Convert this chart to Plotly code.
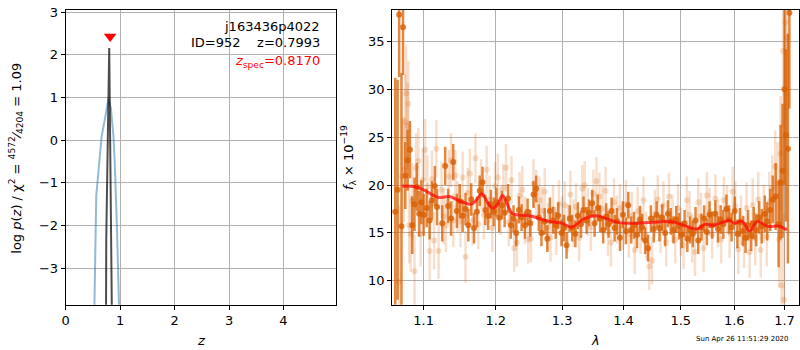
import plotly.graph_objects as go
import numpy as np

# ---------------- left panel data ----------------
z_chi2 = [0.50, 0.525, 0.561, 0.60, 0.66, 0.72, 0.76, 0.786, 0.83, 0.86, 0.877, 0.90, 0.92, 0.94, 0.98, 1.00]
logp_chi2 = [-6.0, -3.9, -1.3, -0.75, 0.09, 0.5, 0.8, 0.97, 0.75, 0.35, 0.1, -0.5, -1.2, -2.0, -3.9, -6.0]
z_pz = [0.730, 0.737, 0.745, 0.7993, 0.847, 0.855]
logp_pz = [-8.0, -3.9, -2.3, 2.16, -3.9, -8.0]
z_spec = 0.8170
z_spec_y = 2.43

# ---------------- right panel data ----------------
lam_dark = [1.063, 1.066, 1.068, 1.071, 1.073, 1.076, 1.079, 1.082, 1.085, 1.088, 1.091, 1.094, 1.097, 1.100,
            1.104, 1.108, 1.111, 1.115, 1.118, 1.125, 1.129, 1.133, 1.137, 1.140, 1.145, 1.149, 1.153, 1.157,
            1.161, 1.165, 1.169, 1.173, 1.177, 1.181, 1.185, 1.189, 1.193, 1.197, 1.201, 1.205, 1.209, 1.213,
            1.218, 1.222, 1.226, 1.230, 1.234, 1.238, 1.243, 1.247, 1.251, 1.256, 1.260, 1.264, 1.268, 1.273,
            1.277, 1.281, 1.286, 1.290, 1.294, 1.299, 1.303, 1.307, 1.312, 1.316, 1.321, 1.325, 1.330, 1.334,
            1.339, 1.343, 1.348, 1.352, 1.357, 1.361, 1.366, 1.371, 1.375, 1.380, 1.385, 1.389, 1.394, 1.399,
            1.404, 1.408, 1.413, 1.418, 1.423, 1.428, 1.432, 1.437, 1.442, 1.447, 1.452, 1.457, 1.462, 1.467,
            1.472, 1.477, 1.482, 1.487, 1.492, 1.497, 1.502, 1.507, 1.512, 1.517, 1.522, 1.527, 1.532, 1.538,
            1.543, 1.548, 1.553, 1.558, 1.564, 1.569, 1.574, 1.579, 1.585, 1.590, 1.595, 1.601, 1.606, 1.611,
            1.617, 1.622, 1.627, 1.633, 1.638, 1.643, 1.649, 1.654, 1.660, 1.665, 1.671, 1.676, 1.682, 1.688,
            1.692, 1.696, 1.700, 1.703, 1.707, 1.710]
flux_dark = [17.2, 19.5, 37.8, 15.7, 36.5, 21.0, 22.6, 23.7, 15.8, 18.0, 19.8, 17.0, 18.2, 16.9,
             17.6, 16.3, 18.4, 19.9, 17.7, 16.0, 22.0, 17.8, 16.5, 22.4, 17.3, 18.3, 16.8, 17.5,
             15.8, 18.5, 15.5, 17.2, 19.4, 20.3, 17.4, 16.8, 18.0, 17.2, 18.2, 16.6, 17.9, 17.1,
             18.6, 15.8, 16.5, 15.0, 17.4, 16.6, 15.8, 17.2, 16.0, 19.0, 19.6, 16.6, 15.0, 16.2,
             14.4, 17.3, 16.3, 15.8, 16.8, 15.0, 15.5, 13.7, 16.5, 15.5, 14.9, 16.8, 15.9, 17.4,
             16.3, 17.1, 18.1, 16.0, 17.6, 16.5, 15.3, 16.7, 15.9, 17.3, 15.5, 16.2, 14.5, 16.9,
             15.2, 17.9, 15.3, 15.8, 14.8, 16.4, 15.6, 14.2, 13.4, 16.5, 15.4, 16.9, 15.5, 16.6,
             15.0, 17.0, 16.2, 15.3, 16.4, 15.7, 14.8, 16.0, 14.4, 15.3, 14.9, 16.3, 14.2, 15.6,
             16.5, 15.1, 16.9, 15.8, 17.0, 15.4, 16.4, 15.9, 17.5, 16.4, 15.6, 17.3, 14.9, 16.1,
             15.2, 14.5, 15.8, 14.7, 16.0, 15.3, 16.6, 15.7, 17.0, 16.2, 17.4, 18.5, 18.8, 15.9,
             20.3, 21.5, 30.0, 25.2, 23.8, 38.0]
err_dark = [14.0, 11.5, 6.5, 16.0, 5.0, 3.5, 3.2, 3.0, 3.0, 2.8, 2.5, 2.4, 2.3, 2.2,
            2.0, 2.0, 2.0, 2.1, 1.9, 1.9, 2.0, 1.8, 1.8, 1.9, 1.8, 1.8, 1.7, 1.7,
            1.7, 1.7, 1.6, 1.6, 1.6, 1.6, 1.6, 1.5, 1.5, 1.5, 1.5, 1.5, 1.5, 1.5,
            1.5, 1.4, 1.4, 1.4, 1.4, 1.4, 1.4, 1.4, 1.4, 1.4, 1.4, 1.4, 1.4, 1.4,
            1.4, 1.4, 1.4, 1.4, 1.4, 1.4, 1.4, 1.4, 1.4, 1.4, 1.4, 1.4, 1.4, 1.4,
            1.4, 1.4, 1.4, 1.4, 1.4, 1.4, 1.4, 1.4, 1.4, 1.4, 1.4, 1.4, 1.4, 1.4,
            1.4, 1.4, 1.4, 1.4, 1.4, 1.4, 1.4, 1.4, 1.4, 1.4, 1.4, 1.4, 1.4, 1.4,
            1.4, 1.4, 1.4, 1.4, 1.4, 1.4, 1.4, 1.4, 1.4, 1.4, 1.4, 1.4, 1.4, 1.4,
            1.4, 1.4, 1.4, 1.4, 1.4, 1.4, 1.5, 1.5, 1.5, 1.5, 1.5, 1.5, 1.5, 1.5,
            1.6, 1.6, 1.6, 1.6, 1.7, 1.7, 1.7, 1.8, 1.9, 2.0, 2.2, 2.5, 3.5, 4.5,
            6.0, 7.0, 10.0, 9.0, 12.0, 10.0]

lam_light = [1.068, 1.072, 1.074, 1.076, 1.077, 1.079, 1.080, 1.081, 1.083, 1.085, 1.088, 1.090, 1.093,
             1.096, 1.099, 1.102, 1.105, 1.108, 1.111, 1.114, 1.117, 1.120, 1.124, 1.127, 1.130, 1.134,
             1.137, 1.140, 1.143, 1.146, 1.150, 1.153, 1.157, 1.160, 1.163, 1.167, 1.171, 1.175, 1.179,
             1.183, 1.187, 1.191, 1.195, 1.199, 1.203, 1.207, 1.211, 1.215, 1.219, 1.223, 1.227, 1.231,
             1.235, 1.239, 1.243, 1.248, 1.252, 1.256, 1.260, 1.265, 1.269, 1.273, 1.278, 1.282, 1.286,
             1.291, 1.295, 1.300, 1.304, 1.309, 1.313, 1.318, 1.322, 1.327, 1.332, 1.336, 1.341, 1.346,
             1.350, 1.355, 1.360, 1.365, 1.370, 1.374, 1.379, 1.384, 1.389, 1.394, 1.399, 1.404, 1.409,
             1.414, 1.419, 1.424, 1.429, 1.434, 1.439, 1.444, 1.449, 1.454, 1.459, 1.464, 1.469, 1.474,
             1.479, 1.485, 1.490, 1.495, 1.500, 1.505, 1.511, 1.516, 1.521, 1.526, 1.532, 1.537, 1.542,
             1.548, 1.553, 1.558, 1.564, 1.569, 1.575, 1.580, 1.586, 1.591, 1.597, 1.602, 1.608, 1.613,
             1.619, 1.624, 1.630, 1.636, 1.641, 1.647, 1.652, 1.658, 1.664, 1.669, 1.675, 1.681, 1.686,
             1.689, 1.692, 1.694, 1.697, 1.699, 1.702, 1.705]
flux_light = [9.9, 20.9, 21.6, 26.6, 29.6, 26.2, 28.5, 15.8, 14.9, 18.3, 11.0, 21.8, 22.5,
              14.9, 20.5, 23.7, 19.9, 13.1, 20.6, 14.2, 23.8, 13.1, 19.5, 16.7, 15.8, 20.9,
              22.6, 16.3, 21.0, 17.7, 16.2, 20.8, 12.5, 19.2, 21.2, 16.3, 22.8, 15.9, 20.1,
              16.9, 21.6, 18.5, 15.5, 19.9, 20.8, 17.3, 19.7, 21.8, 16.1, 20.5, 13.4, 14.0,
              18.9, 19.5, 16.3, 14.3, 14.4, 20.2, 19.1, 18.4, 17.3, 19.3, 15.6, 14.5, 17.5,
              15.2, 18.0, 16.3, 17.9, 15.5, 19.0, 16.0, 17.7, 14.5, 19.6, 20.0, 17.2, 15.6,
              19.1, 20.4, 18.8, 17.5, 19.4, 15.1, 14.0, 18.2, 16.4, 17.6, 15.7, 18.0, 14.9,
              16.8, 13.2, 17.3, 15.3, 18.4, 14.7, 11.5, 12.1, 17.0, 18.5, 15.4, 17.9, 14.0,
              18.8, 16.5, 14.3, 17.6, 15.1, 13.7, 18.4, 16.9, 14.4, 13.0, 18.2, 16.7, 13.4,
              18.9, 17.2, 14.8, 18.6, 16.0, 14.3, 18.4, 17.5, 15.0, 19.3, 17.8, 13.3, 16.3,
              14.0, 17.6, 13.0, 17.9, 14.4, 18.5, 13.2, 17.0, 14.6, 18.2, 19.7, 21.9, 20.3,
              14.3, 23.3, 9.5, 34.0, 8.0, 37.0, 35.4]
err_light = [8.0, 6.0, 5.5, 5.0, 5.0, 4.5, 4.5, 4.0, 4.0, 4.0, 3.8, 3.6, 3.5,
             3.4, 3.3, 3.2, 3.2, 3.1, 3.0, 3.0, 3.0, 2.9, 2.9, 2.9, 2.8, 2.8,
             2.8, 2.8, 2.7, 2.7, 2.7, 2.7, 2.7, 2.6, 2.6, 2.6, 2.6, 2.6, 2.6,
             2.6, 2.5, 2.5, 2.5, 2.5, 2.5, 2.5, 2.5, 2.5, 2.5, 2.5, 2.5, 2.5,
             2.5, 2.5, 2.5, 2.5, 2.5, 2.5, 2.5, 2.5, 2.5, 2.5, 2.5, 2.5, 2.5,
             2.5, 2.5, 2.5, 2.5, 2.5, 2.5, 2.5, 2.5, 2.5, 2.5, 2.5, 2.5, 2.5,
             2.5, 2.5, 2.5, 2.5, 2.5, 2.5, 2.5, 2.5, 2.5, 2.5, 2.5, 2.5, 2.5,
             2.5, 2.5, 2.5, 2.5, 2.5, 2.5, 2.5, 2.5, 2.5, 2.5, 2.5, 2.5, 2.5,
             2.5, 2.5, 2.5, 2.5, 2.5, 2.5, 2.5, 2.5, 2.5, 2.5, 2.5, 2.5, 2.5,
             2.5, 2.5, 2.5, 2.5, 2.5, 2.5, 2.5, 2.5, 2.6, 2.6, 2.6, 2.6, 2.6,
             2.7, 2.7, 2.7, 2.8, 2.8, 2.9, 2.9, 3.0, 3.1, 3.2, 3.4, 3.8, 4.2,
             5.0, 6.0, 7.0, 8.0, 9.0, 10.0, 10.0]

model_lam = [1.072, 1.09, 1.10, 1.12, 1.135, 1.15, 1.165, 1.172, 1.18, 1.188, 1.195, 1.202, 1.21, 1.218,
             1.225, 1.25, 1.28, 1.30, 1.315, 1.335, 1.355, 1.375, 1.39, 1.42, 1.45, 1.47, 1.49, 1.51,
             1.53, 1.545, 1.56, 1.59, 1.60, 1.615, 1.63, 1.645, 1.665, 1.69, 1.705]
model_flux = [19.9, 19.8, 19.5, 18.7, 18.8, 18.3, 18.0, 18.4, 19.1, 18.2, 17.6, 17.9, 18.9, 17.8,
              17.0, 16.8, 16.2, 16.0, 15.6, 16.5, 16.8, 16.4, 16.1, 16.0, 16.1, 16.2, 16.1, 15.7,
              15.4, 15.9, 15.8, 16.3, 16.0, 16.2, 15.2, 16.2, 15.7, 15.7, 15.3]

x_ticks_lam = [1.1, 1.2, 1.3, 1.4, 1.5, 1.6, 1.7]

ORANGE = "217,95,2"
FONT = "DejaVu Sans"

fig = go.Figure()

# left panel
fig.add_trace(go.Scatter(x=z_chi2, y=logp_chi2, mode="lines",
                         line=dict(color="rgba(31,119,180,0.5)", width=2), xaxis="x", yaxis="y",
                         showlegend=False))
fig.add_trace(go.Scatter(x=z_pz, y=logp_pz, mode="lines",
                         line=dict(color="rgba(0,0,0,0.7)", width=2), xaxis="x", yaxis="y",
                         showlegend=False))
fig.add_trace(go.Scatter(x=[z_spec], y=[z_spec_y], mode="markers",
                         marker=dict(symbol="triangle-down", color="red", size=11), xaxis="x", yaxis="y",
                         showlegend=False))

# right panel
fig.add_trace(go.Scatter(x=lam_light, y=flux_light, mode="markers",
                         marker=dict(color=f"rgba({ORANGE},0.2)", size=6),
                         error_y=dict(type="data", array=err_light, color=f"rgba({ORANGE},0.2)",
                                      thickness=2.5, width=0),
                         xaxis="x2", yaxis="y2", showlegend=False))
fig.add_trace(go.Scatter(x=lam_dark, y=flux_dark, mode="markers",
                         marker=dict(color=f"rgba({ORANGE},0.8)", size=6),
                         error_y=dict(type="data", array=err_dark, color=f"rgba({ORANGE},0.75)",
                                      thickness=2.5, width=0),
                         xaxis="x2", yaxis="y2", showlegend=False))
fig.add_trace(go.Scatter(x=model_lam, y=model_flux, mode="lines", line_shape="spline",
                         line=dict(color="rgba(255,0,0,0.7)", width=3),
                         xaxis="x2", yaxis="y2", showlegend=False))

ax_common = dict(showline=True, linecolor="black", linewidth=1, mirror=True,
                 ticks="outside", ticklen=4, tickcolor="black", showgrid=True,
                 gridcolor="#b0b0b0", gridwidth=1, zeroline=False, ticklabeloverflow="allow",
                 tickfont=dict(family=FONT, size=13, color="black"))

fig.update_layout(
    width=800, height=350, margin=dict(l=0, r=0, t=0, b=0),
    paper_bgcolor="white", plot_bgcolor="white",
    xaxis=dict(domain=[62/800, 334/800], range=[0, 4.97], tickvals=[0, 1, 2, 3, 4],
               anchor="y", **ax_common),
    yaxis=dict(domain=[1-304/350, 1-5/350], range=[-3.85, 3.05], tickvals=[-3, -2, -1, 0, 1, 2, 3],
               ticktext=["\u22123", "\u22122", "\u22121", "0", "1", "2", "3"], anchor="x", **ax_common),
    xaxis2=dict(domain=[390/800, 799/800], type="log",
                range=[np.log10(1.0589), np.log10(1.730)], tickvals=x_ticks_lam,
                ticktext=[f"{v:.1f}" for v in x_ticks_lam], anchor="y2", **ax_common),
    yaxis2=dict(domain=[1-304/350, 1-5/350], range=[7.5, 38.3], tickvals=[10, 15, 20, 25, 30, 35],
                anchor="x2", **ax_common),
)

ann_font = dict(family=FONT, size=13, color="black")
annotations = [
    dict(text="j163436p4022", x=320, y=350-22, xref="paper", yref="paper"),
    dict(text="ID=952    z=0.7993", x=320, y=350-38, xref="paper", yref="paper"),
]
for a in annotations:
    fig.add_annotation(text=a["text"].replace("    ", "&nbsp;&nbsp;&nbsp;&nbsp;"), x=a["x"]/800, y=a["y"]/350,
                       xref="paper", yref="paper", xanchor="right", yanchor="middle",
                       showarrow=False, font=ann_font)
fig.add_annotation(text="<i>z</i><sub>spec</sub>=0.8170", x=320/800, y=(350-57)/350,
                   xref="paper", yref="paper", xanchor="right", yanchor="middle",
                   showarrow=False, font=dict(family=FONT, size=13, color="red"))
# axis titles
fig.add_annotation(text="<i>z</i>", x=198/800, y=(350-340)/350, xref="paper", yref="paper",
                   showarrow=False, font=ann_font, xanchor="center", yanchor="middle")
fig.add_annotation(text="<i>\u03bb</i>", x=594/800, y=(350-340)/350, xref="paper", yref="paper",
                   showarrow=False, font=ann_font, xanchor="center", yanchor="middle")
fig.add_annotation(text="log <i>p</i>(<i>z</i>) / \u03c7<sup>2</sup> = <sup>4572</sup>\u2044<sub>4204</sub> = 1.09",
                   x=12/800, y=(350-155)/350, xref="paper", yref="paper", textangle=-90,
                   showarrow=False, font=ann_font, xanchor="center", yanchor="middle")
fig.add_annotation(text="<i>f</i><sub>\u03bb</sub> \u00d7 10<sup>\u221219</sup>",
                   x=346/800, y=(350-155)/350, xref="paper", yref="paper", textangle=-90,
                   showarrow=False, font=ann_font, xanchor="center", yanchor="middle")
fig.add_annotation(text="Sun Apr 26 11:51:29 2020", x=742/800, y=(350-339)/350, xref="paper", yref="paper",
                   showarrow=False, font=dict(family=FONT, size=7, color="black"),
                   xanchor="center", yanchor="middle")

fig.write_html("out.html")
